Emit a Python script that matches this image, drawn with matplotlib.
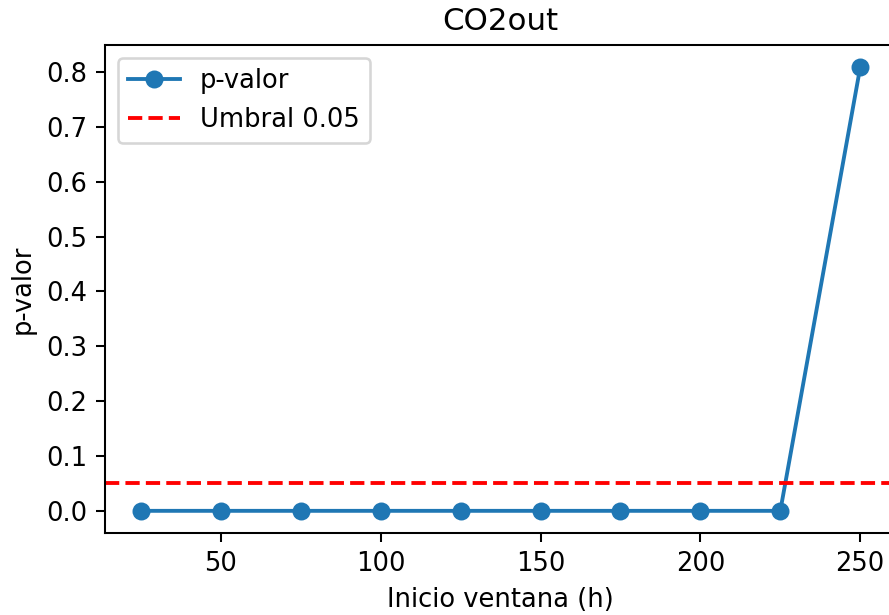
import matplotlib
matplotlib.use("Agg")
import matplotlib.pyplot as plt

# window start (h) and p-values for CO2out
inicio = [25, 50, 75, 100, 125, 150, 175, 200, 225, 250]
p_valor = [0.0, 0.0, 0.0, 0.0, 0.0, 0.0, 0.0, 0.0, 0.0, 0.809]
umbral = 0.05

dpi = 185
fig = plt.figure(figsize=(889 / dpi, 615 / dpi), dpi=dpi)
# the original figure is cropped on the right, so the axes run past the edge
ax = fig.add_axes([0.1181, 0.1333, 0.890, 0.7935])

ax.plot(inicio, p_valor, marker="o", label="p-valor")
ax.axhline(umbral, color="red", linestyle="--", label="Umbral 0.05")

ax.set_title("CO2out")
ax.set_xlabel("Inicio ventana (h)")
ax.set_ylabel("p-valor")
ax.legend(loc="upper left")

fig.savefig("out.png", dpi=dpi)
